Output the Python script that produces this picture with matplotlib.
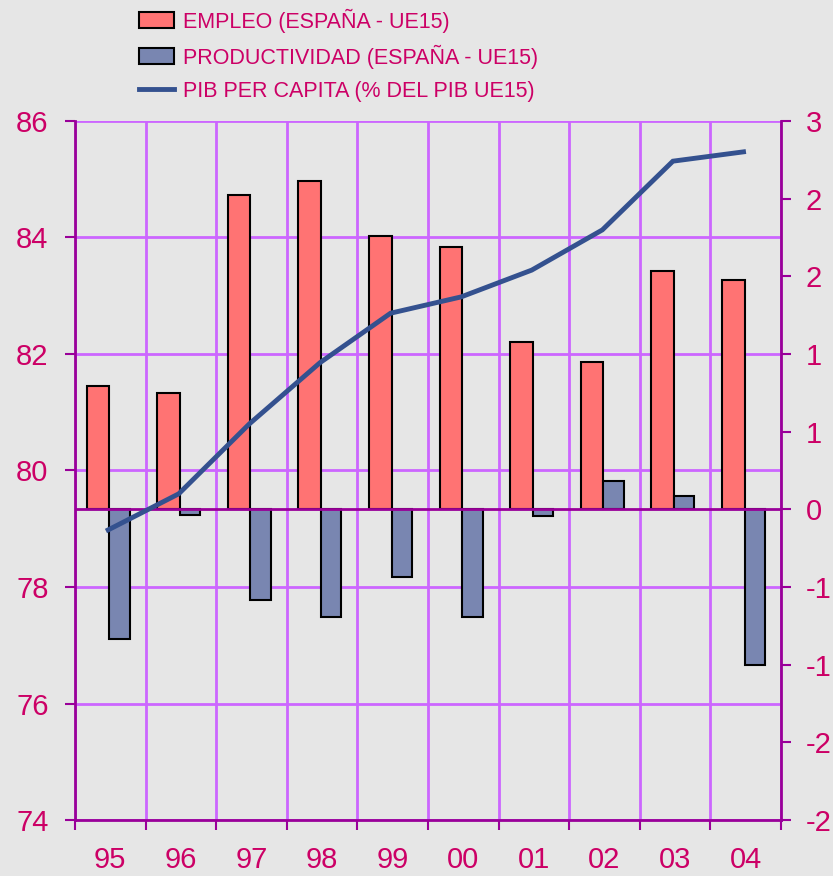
#!/usr/bin/env python

import numpy as np
import matplotlib.pyplot as plt
from matplotlib.patches import Patch
from matplotlib.lines import Line2D

years = ['95', '96', '97', '98', '99', '00', '01', '02', '03', '04']
empleo = [0.95, 0.90, 2.43, 2.54, 2.11, 2.03, 1.29, 1.14, 1.84, 1.77]
productividad = [-1.00, -0.04, -0.70, -0.83, -0.52, -0.83, -0.05, 0.22, 0.10, -1.20]
pib_pc = [78.98, 79.60, 80.80, 81.85, 82.70, 82.98, 83.44, 84.13, 85.31, 85.47]

left_ticks = [74, 76, 78, 80, 82, 84, 86]
right_ticks = [-2.4, -1.8, -1.2, -0.6, 0, 0.6, 1.2, 1.8, 2.4, 3.0]
right_labels = ['-2', '-2', '-1', '-1', '0', '1', '1', '2', '2', '3']

BG = '#E6E6E6'
GRID = '#CC66FF'
SPINE = '#990099'
TXT = '#CC0066'
C_EMP = '#FF7373'
C_PROD = '#7986B1'
C_LINE = '#34518F'
FONT = ['Liberation Sans', 'DejaVu Sans']

fig = plt.figure(figsize=(8.33, 8.76), dpi=100, facecolor=BG)
ax = fig.add_axes([0.090, 0.0639, 0.8475, 0.798])
ax.set_facecolor(BG)
x = np.arange(len(years))

# left scale axis: grid + left ticks
ax.set_xlim(-0.5, len(years) - 0.5)
ax.set_ylim(74, 86)
ax.set_yticks(left_ticks)
ax.set_yticklabels([str(t) for t in left_ticks])
ax.set_xticks(np.arange(len(years) + 1) - 0.5)
ax.set_xticklabels([])
ax.set_xticks(x, minor=True)
ax.set_xticklabels(years, minor=True)
ax.grid(True, color=GRID, linewidth=2)
ax.set_axisbelow(True)
ax.tick_params(axis='both', which='major', direction='out', length=7, width=1.5,
               color=SPINE, labelcolor=TXT, labelsize=21, pad=12)
ax.tick_params(axis='x', which='minor', length=0, labelcolor=TXT, labelsize=21, pad=19)
for lab in ax.get_xticklabels(minor=True) + ax.get_yticklabels():
    lab.set_family(FONT)
for s in ['left', 'bottom']:
    ax.spines[s].set_color(SPINE)
    ax.spines[s].set_linewidth(2)
ax.spines['top'].set_visible(False)
ax.spines['right'].set_visible(False)

# bars on right scale
axb = ax.twinx()
axb.set_ylim(-2.4, 3.0)
axb.set_yticks(right_ticks)
axb.set_yticklabels(right_labels)
for lab in axb.get_yticklabels():
    lab.set_family(FONT)
axb.tick_params(axis='y', direction='out', length=7, width=1.5, color=SPINE,
                labelcolor=TXT, labelsize=21, pad=11)
axb.spines['right'].set_color(SPINE)
axb.spines['right'].set_linewidth(2)
for s in ['left', 'top', 'bottom']:
    axb.spines[s].set_visible(False)
axb.bar(x - 0.335, empleo, width=0.32, align='edge', color=C_EMP,
        edgecolor='black', linewidth=1.5, zorder=2)
axb.bar(x - 0.015, productividad, width=0.29, align='edge', color=C_PROD,
        edgecolor='black', linewidth=1.5, zorder=2)
axb.axhline(0, color=SPINE, linewidth=2, zorder=3)

# line on left scale, drawn above bars
axl = ax.twinx()
axl.set_ylim(74, 86)
axl.axis('off')
axl.plot(x - 0.03, pib_pc, color=C_LINE, linewidth=3.5, solid_joinstyle='miter')

handles = [Patch(facecolor=C_EMP, edgecolor='black', linewidth=1.5),
           Patch(facecolor=C_PROD, edgecolor='black', linewidth=1.5),
           Line2D([0], [0], color=C_LINE, linewidth=3.5)]
labels = ['EMPLEO (ESPAÑA - UE15)', 'PRODUCTIVIDAD (ESPAÑA - UE15)',
          'PIB PER CAPITA (% DEL PIB UE15)']
leg = fig.legend(handles, labels, loc='upper left', bbox_to_anchor=(0.167, 0.99),
                 frameon=False, handlelength=1.6, handleheight=0.75,
                 handletextpad=0.45, labelspacing=0.55, borderpad=0,
                 borderaxespad=0, prop={'family': FONT, 'size': 15.5})
for t in leg.get_texts():
    t.set_color(TXT)

fig.savefig('out.png', dpi=100, facecolor=BG)
